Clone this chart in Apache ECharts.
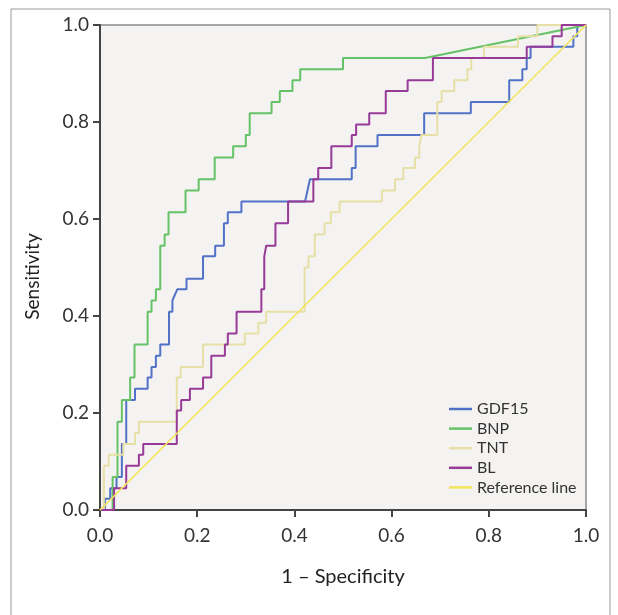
<!DOCTYPE html>
<html>
<head>
<meta charset="utf-8">
<script src="https://cdn.jsdelivr.net/npm/echarts@6/dist/echarts.min.js"></script>
<style>
  html, body { margin: 0; padding: 0; background: #fff; }
  #chart { width: 618px; height: 615px; }
</style>
</head>
<body>
<div id="chart"></div>
<script>
  // ROC curves, [1 - specificity, sensitivity] corner points
  var seriesNames = ['GDF15', 'BNP', 'TNT', 'BL', 'Reference line']
  var tickLabels = ['0.0', '0.2', '0.4', '0.6', '0.8', '1.0']

  var gdf15 = [[0,0],[0.010,0],[0.010,0.023],[0.021,0.023],[0.021,0.045],[0.034,0.045],[0.034,0.068],
    [0.045,0.068],[0.045,0.136],[0.054,0.136],[0.054,0.227],[0.072,0.227],[0.072,0.25],[0.098,0.25],
    [0.098,0.273],[0.106,0.273],[0.106,0.295],[0.115,0.295],[0.115,0.318],[0.124,0.318],[0.124,0.341],
    [0.142,0.341],[0.142,0.409],[0.149,0.409],[0.149,0.432],[0.159,0.455],[0.178,0.455],[0.178,0.477],
    [0.212,0.477],[0.212,0.523],[0.237,0.523],[0.237,0.545],[0.255,0.545],[0.255,0.591],[0.263,0.591],
    [0.263,0.614],[0.291,0.614],[0.291,0.636],[0.422,0.636],[0.432,0.682],[0.518,0.682],[0.518,0.705],
    [0.526,0.705],[0.526,0.75],[0.571,0.75],[0.571,0.773],[0.667,0.773],[0.667,0.818],[0.763,0.818],
    [0.763,0.841],[0.842,0.841],[0.842,0.886],[0.869,0.886],[0.869,0.909],[0.878,0.909],[0.878,0.932],
    [0.886,0.932],[0.886,0.955],[0.974,0.955],[0.974,0.977],[0.982,0.977],[0.982,1],[1,1]]

  var bnp = [[0,0],[0.026,0],[0.026,0.068],[0.036,0.068],[0.036,0.182],[0.045,0.182],[0.045,0.227],
    [0.062,0.227],[0.062,0.273],[0.071,0.273],[0.071,0.341],[0.098,0.341],[0.098,0.409],[0.106,0.409],
    [0.106,0.432],[0.115,0.432],[0.115,0.455],[0.124,0.455],[0.124,0.545],[0.133,0.545],[0.133,0.568],
    [0.141,0.568],[0.141,0.614],[0.176,0.614],[0.176,0.659],[0.203,0.659],[0.203,0.682],[0.236,0.682],
    [0.236,0.727],[0.274,0.727],[0.274,0.75],[0.300,0.75],[0.300,0.773],[0.308,0.773],[0.308,0.818],
    [0.353,0.818],[0.353,0.841],[0.370,0.841],[0.370,0.864],[0.396,0.864],[0.396,0.886],[0.412,0.886],
    [0.412,0.909],[0.500,0.909],[0.500,0.932],[0.669,0.932],[1,1]]

  var tnt = [[0,0],[0.008,0],[0.008,0.091],[0.018,0.091],[0.018,0.114],[0.048,0.114],[0.048,0.136],
    [0.072,0.136],[0.072,0.159],[0.080,0.159],[0.080,0.182],[0.158,0.182],[0.158,0.273],[0.166,0.273],
    [0.166,0.295],[0.212,0.295],[0.212,0.341],[0.298,0.341],[0.298,0.364],[0.326,0.364],[0.326,0.386],
    [0.342,0.386],[0.342,0.409],[0.421,0.409],[0.421,0.5],[0.429,0.5],[0.429,0.523],[0.442,0.523],
    [0.442,0.568],[0.462,0.568],[0.462,0.591],[0.475,0.591],[0.475,0.614],[0.493,0.614],[0.493,0.636],
    [0.580,0.636],[0.580,0.659],[0.607,0.659],[0.607,0.682],[0.624,0.682],[0.624,0.705],[0.648,0.705],
    [0.648,0.727],[0.657,0.727],[0.657,0.75],[0.661,0.75],[0.661,0.773],[0.694,0.773],[0.694,0.841],
    [0.703,0.841],[0.703,0.864],[0.729,0.864],[0.729,0.886],[0.756,0.886],[0.756,0.909],[0.764,0.909],
    [0.764,0.932],[0.790,0.932],[0.790,0.955],[0.860,0.955],[0.860,0.977],[0.900,0.977],[0.900,1],[1,1]]

  var bl = [[0,0],[0.029,0],[0.029,0.045],[0.054,0.045],[0.054,0.091],[0.080,0.091],[0.080,0.114],
    [0.089,0.114],[0.089,0.136],[0.158,0.136],[0.158,0.205],[0.167,0.205],[0.167,0.227],[0.185,0.227],
    [0.185,0.25],[0.212,0.25],[0.212,0.273],[0.229,0.273],[0.229,0.318],[0.257,0.318],[0.257,0.341],
    [0.263,0.341],[0.263,0.364],[0.281,0.364],[0.281,0.409],[0.332,0.409],[0.332,0.455],[0.338,0.455],
    [0.338,0.523],[0.342,0.523],[0.342,0.545],[0.361,0.545],[0.361,0.591],[0.387,0.591],[0.387,0.636],
    [0.439,0.636],[0.439,0.682],[0.449,0.682],[0.449,0.705],[0.476,0.705],[0.476,0.75],[0.518,0.75],
    [0.518,0.773],[0.527,0.773],[0.527,0.795],[0.554,0.795],[0.554,0.818],[0.588,0.818],[0.588,0.864],
    [0.633,0.864],[0.633,0.886],[0.685,0.886],[0.685,0.932],[0.878,0.932],[0.878,0.955],[0.931,0.955],
    [0.931,0.977],[0.950,0.977],[0.950,1],[1,1]]

  var referenceLine = [[0,0],[1,1]]

  var colors = ['#5272c8', '#66c266', '#e6e0a6', '#983a98', '#f3e65c']
  var font = 'Lato, "Open Sans", sans-serif'

  const myChart = echarts.init(document.getElementById('chart'))

  function lineSeries(name, data, i, width) {
    return {
      name: name,
      type: 'line',
      data: data,
      symbol: 'none',
      showSymbol: false,
      smooth: false,
      color: colors[i],
      lineStyle: { color: colors[i], width: width },
      itemStyle: { color: colors[i] },
      z: 3
    }
  }

  var axisCommon = {
    type: 'value',
    min: 0,
    max: 1,
    interval: 0.2,
    splitLine: { show: false },
    axisLine: { lineStyle: { color: '#444', width: 2 } },
    axisTick: { length: 7, lineStyle: { color: '#444', width: 2 } },
    nameLocation: 'middle',
    nameTextStyle: { color: '#222', fontSize: 20, fontFamily: font }
  }

  var option = {
    animation: false,
    backgroundColor: '#fff',
    grid: {
      left: 100,
      top: 25,
      width: 486,
      height: 485,
      show: true,
      backgroundColor: '#f4f3f1',
      borderColor: '#8c8c8c',
      borderWidth: 1.5
    },
    graphic: [{
      type: 'rect',
      shape: { x: 11, y: 9, width: 599, height: 640 },
      style: { fill: 'none', stroke: '#9a9a9a', lineWidth: 1 },
      silent: true
    }],
    legend: {
      orient: 'vertical',
      left: 449,
      top: 401,
      padding: 0,
      itemWidth: 23,
      itemHeight: 2.5,
      itemGap: 3.6,
      icon: 'rect',
      data: seriesNames,
      textStyle: { color: '#333', fontSize: 16, fontFamily: font, lineHeight: 16 }
    },
    xAxis: Object.assign({}, axisCommon, {
      name: '1 \u2013 Specificity',
      nameGap: 57,
      axisLabel: {
        margin: 16,
        color: '#333',
        fontSize: 19,
        fontFamily: font,
        formatter: function (v) { return tickLabels[Math.round(v * 5)] }
      }
    }),
    yAxis: Object.assign({}, axisCommon, {
      name: 'Sensitivity',
      nameGap: 58,
      nameTextStyle: { color: '#222', fontSize: 19, fontFamily: font, padding: [0, 18, 0, 0] },
      axisLabel: {
        margin: 11,
        color: '#333',
        fontSize: 19,
        fontFamily: font,
        formatter: function (v) { return tickLabels[Math.round(v * 5)] }
      }
    }),
    series: [
      lineSeries(seriesNames[0], gdf15, 0, 2),
      lineSeries(seriesNames[1], bnp, 1, 2),
      lineSeries(seriesNames[2], tnt, 2, 2),
      lineSeries(seriesNames[3], bl, 3, 2),
      lineSeries(seriesNames[4], referenceLine, 4, 1.7)
    ]
  }

  myChart.setOption(option)
</script>
</body>
</html>
